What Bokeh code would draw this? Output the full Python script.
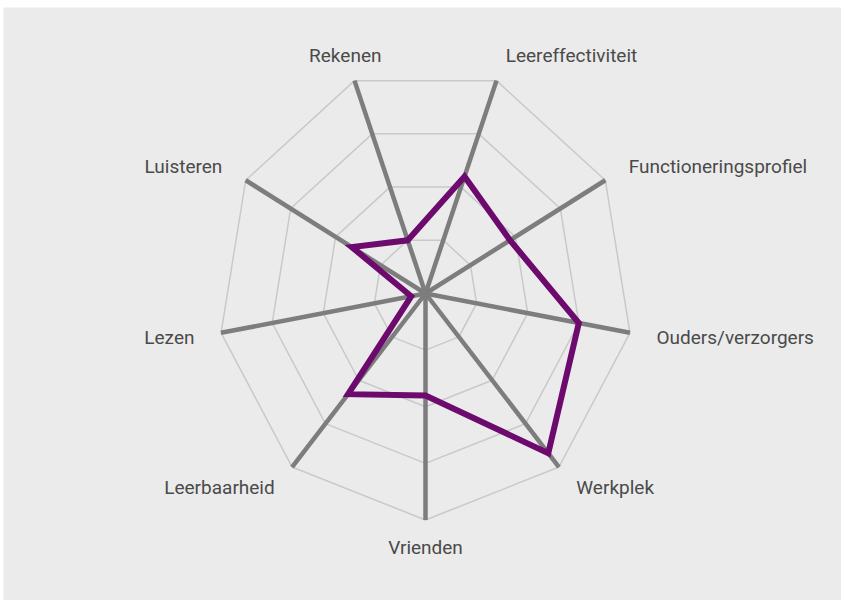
import numpy as np
from bokeh.plotting import figure
from bokeh.models import ColumnDataSource
from bokeh.core.properties import value
from bokeh.embed import file_html
from bokeh.resources import INLINE

# ---- data (clockwise, starting top-left) ----
categories = ["Rekenen", "Leereffectiviteit", "Functioneringsprofiel",
              "Ouders/verzorgers", "Werkplek", "Vrienden",
              "Leerbaarheid", "Lezen", "Luisteren"]
values = [25, 55, 47, 75, 92, 45, 58, 7, 41]
max_value = 100
ring_levels = [25, 50, 75, 100]

# ---- style ----
label_align = ["center", "left", "left", "left", "left", "center", "right", "right", "right"]
BG = "#ebebeb"
RING = "#c9c9c9"
SPOKE = "#7d7d7d"
PURPLE = "#6c0a6d"
TEXT = "#4a4a4a"

n = len(categories)
theta = np.radians(-20 + 360.0 / n * np.arange(n))   # clockwise from up
sx, sy = np.sin(theta), np.cos(theta)

W, H = 838, 593
cx_px, cy_px = 422, 286
ux, uy = 207.6, 226.5
p = figure(width=W, height=H, output_backend="svg", toolbar_location=None,
           x_range=(-cx_px / ux, (W - cx_px) / ux),
           y_range=(-(H - cy_px) / uy, cy_px / uy),
           min_border=0, background_fill_color=BG, border_fill_color=BG)
p.margin = (7, 0, 0, 3)
p.axis.visible = False
p.grid.visible = False
p.outline_line_color = None

# rings
for lv in ring_levels:
    r = lv / max_value
    p.patch(list(r * sx), list(r * sy), fill_color=None,
            line_color=RING, line_width=1.5)

# spokes
p.multi_line([[0, x] for x in sx], [[0, y] for y in sy],
             line_color=SPOKE, line_width=4.5)

# data polygon
fr = np.array(values) / max_value
p.patch(list(fr * sx), list(fr * sy), fill_color=None,
        line_color=PURPLE, line_width=6, line_join="miter")

# labels
off = 27
src = ColumnDataSource(dict(x=sx, y=sy, t=categories, a=label_align,
                            xo=off * sx, yo=-off * sy))
p.text(x="x", y="y", text="t", text_align="a", x_offset="xo", y_offset="yo",
       source=src, text_baseline="middle", text_font=value("Roboto"),
       text_font_size="19px", text_color=TEXT)

open("out.html", "w").write(file_html(p, INLINE))
